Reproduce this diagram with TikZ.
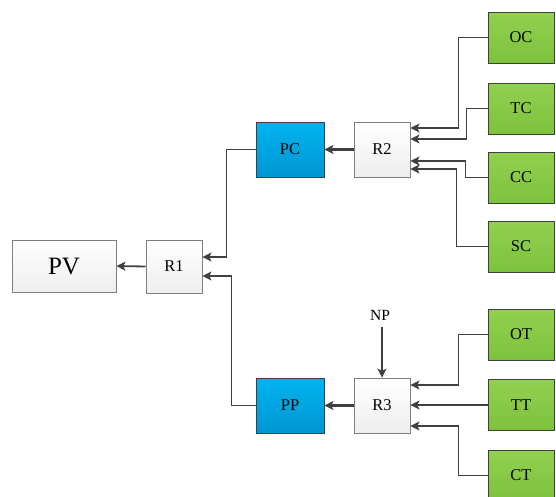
\documentclass[tikz,border=0pt]{standalone}
\usepackage{fontspec}
\setmainfont{Liberation Serif}
\usetikzlibrary{arrows.meta}
\definecolor{lnc}{HTML}{404040}
\definecolor{bluetop}{HTML}{00B4F0}
\definecolor{bluebot}{HTML}{0096D2}
\definecolor{greentop}{HTML}{92D050}
\definecolor{greenbot}{HTML}{7DC23C}
\definecolor{greybot}{HTML}{EEEEEE}
\definecolor{bordgrey}{HTML}{7F7F7F}
\definecolor{borddark}{HTML}{3F3F3F}
\tikzset{
  box/.style={draw, line width=0.9pt, inner sep=0pt, font=\fontsize{16.5}{18}\selectfont},
  whitebox/.style={box, draw=bordgrey, top color=white, bottom color=greybot},
  bluebox/.style={box, draw=borddark, top color=bluetop, bottom color=bluebot, minimum width=68pt, minimum height=55pt},
  greenbox/.style={box, draw=borddark, top color=greentop, bottom color=greenbot, minimum width=66pt, minimum height=51pt},
  conn/.style={draw=lnc, line width=1.8pt, -{Stealth[length=9pt,width=9pt,inset=2.2pt]}},
  thickconn/.style={conn, line width=2.5pt},
}
\begin{document}
\begin{tikzpicture}[x=1pt,y=-1pt]
\path[use as bounding box, clip] (0,0) rectangle (556,496);
% white boxes
\node[whitebox, minimum width=104pt, minimum height=52pt, font=\fontsize{25}{28}\selectfont] (PV) at (64,266) {PV};
\node[whitebox, minimum width=56pt, minimum height=53pt] (R1) at (174,266.5) {R1};
\node[whitebox, minimum width=56pt, minimum height=55pt] (R2) at (382,149.5) {R2};
\node[whitebox, minimum width=56pt, minimum height=55pt] (R3) at (382,405.5) {R3};
% blue boxes
\node[bluebox] (PC) at (290,149.5) {PC};
\node[bluebox] (PP) at (290,405.5) {PP};
% green boxes
\node[greenbox] (OC) at (521,37.5) {OC};
\node[greenbox] (TC) at (521,108.5) {TC};
\node[greenbox] (CC) at (521,177.5) {CC};
\node[greenbox] (SC) at (521,246.5) {SC};
\node[greenbox] (OT) at (521,334.5) {OT};
\node[greenbox] (TT) at (521,405) {TT};
\node[greenbox] (CT) at (521,475.5) {CT};
% NP label
\node[font=\fontsize{15.5}{17}\selectfont, inner sep=1pt] (NP) at (380,315) {NP};
% connectors
\draw[conn] (OC.west) -- ++(-29,0) |- ([yshift=21.5pt]R2.east);
\draw[conn] (TC.west) -- ++(-21,0) |- ([yshift=10.5pt]R2.east);
\draw[conn] (CC.west) -- ++(-22,0) |- ([yshift=-11.5pt]R2.east);
\draw[conn] (SC.west) -- ++(-31,0) |- ([yshift=-19.5pt]R2.east);
\draw[conn] (OT.west) -- ++(-29,0) |- ([yshift=20.5pt]R3.east);
\draw[conn] (TT.west) -- (R3.east |- TT.west);
\draw[conn] (CT.west) -- ++(-29,0) |- ([yshift=-20.5pt]R3.east);
\draw[conn, line width=1.3pt, shorten <=6pt] ([xshift=2pt]NP.south) -- ([xshift=2pt]NP.south |- R3.north);
\draw[thickconn] (R2.west) -- (PC.east);
\draw[thickconn] (R3.west) -- (PP.east);
\draw[conn] (PC.west) -- ++(-29,0) |- ([yshift=9.5pt]R1.east);
\draw[conn] (PP.west) -- ++(-24,0) |- ([yshift=-9.5pt]R1.east);
\draw[conn] (R1.west) -- (PV.east);
\end{tikzpicture}
\end{document}
